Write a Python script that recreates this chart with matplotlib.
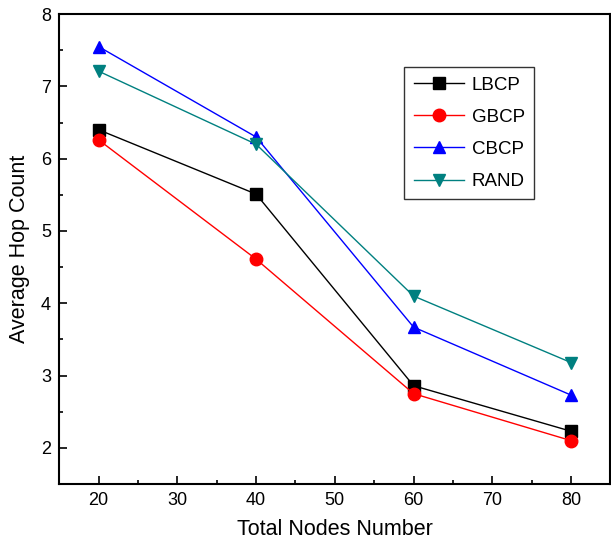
import matplotlib
matplotlib.use("Agg")
import matplotlib.pyplot as plt
from matplotlib.ticker import MultipleLocator

plt.rcParams['font.family'] = ['Liberation Sans', 'DejaVu Sans']

# Nombre total de noeuds et nombre moyen de sauts pour chaque protocole
nodes = [20, 40, 60, 80]
lbcp = [6.40, 5.51, 2.86, 2.23]
gbcp = [6.26, 4.61, 2.75, 2.10]
cbcp = [7.55, 6.30, 3.67, 2.73]
rand = [7.21, 6.20, 4.10, 3.18]

fig = plt.figure(figsize=(6.11, 5.42), dpi=100)
ax = fig.add_axes([0.097, 0.107, 0.902, 0.867])

series = [
    ("LBCP", lbcp, "black", "s"),
    ("GBCP", gbcp, "red", "o"),
    ("CBCP", cbcp, "blue", "^"),
    ("RAND", rand, "#008080", "v"),
]
for name, values, color, marker in series:
    ax.plot(nodes, values, color=color, marker=marker, markersize=9,
            linewidth=1, label=name)

ax.set_xlim(15, 85)
ax.set_ylim(1.5, 8)
ax.xaxis.set_major_locator(MultipleLocator(10))
ax.xaxis.set_minor_locator(MultipleLocator(5))
ax.yaxis.set_major_locator(MultipleLocator(1))
ax.yaxis.set_minor_locator(MultipleLocator(0.5))
ax.tick_params(which='major', direction='in', length=6, width=1.2,
               labelsize=13, pad=6)
ax.tick_params(which='minor', direction='in', length=3, width=1.2)
for spine in ax.spines.values():
    spine.set_linewidth(1.5)

ax.set_xlabel("Total Nodes Number", fontsize=15.5, labelpad=7)
ax.set_ylabel("Average Hop Count", fontsize=15.5, labelpad=8)

leg = ax.legend(loc='upper left', bbox_to_anchor=(0.626, 0.887),
                borderaxespad=0, fontsize=13.5,
                frameon=True, fancybox=False, edgecolor='black',
                handlelength=2.7, handletextpad=0.4,
                borderpad=0.5, labelspacing=0.8)
leg.get_frame().set_linewidth(1)

fig.savefig("out.png", dpi=100)
plt.close(fig)
